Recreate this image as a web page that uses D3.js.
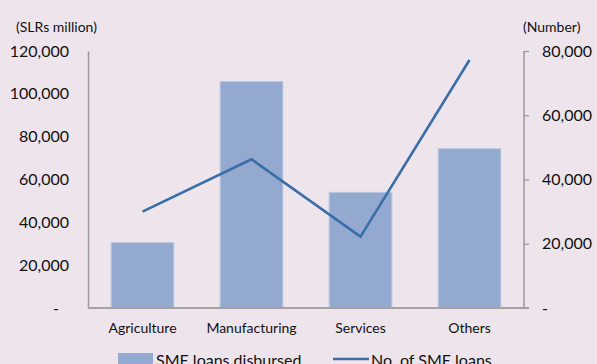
<!DOCTYPE html>
<html>
<head>
<meta charset="utf-8">
<script src="https://cdn.jsdelivr.net/npm/d3@7"></script>
<style>
  html, body { margin: 0; padding: 0; background: #eee4ec; }
  svg { display: block; font-family: Lato, "Open Sans", sans-serif; }
</style>
</head>
<body>
<svg id="chart" width="597" height="364"></svg>
<script>
// SME lending by sector
const categories = ["Agriculture", "Manufacturing", "Services", "Others"];
const loansDisbursed = [30500, 105700, 54000, 74400];   // SLRs million (left axis)
const loanCount = [30000, 46300, 22200, 77200];         // number of loans (right axis)
const leftTicks = [0, 20000, 40000, 60000, 80000, 100000, 120000];
const rightTicks = [0, 20000, 40000, 60000, 80000];
const seriesNames = ["SME loans disbursed", "No. of SME loans"];

const svg = d3.select("#chart");
const plot = { left: 88, right: 524, top: 51, bottom: 308 };

const x = d3.scaleBand().domain(categories).range([plot.left, plot.right]).padding(0);
const yL = d3.scaleLinear().domain([0, 120000]).range([plot.bottom, plot.top]);
const yR = d3.scaleLinear().domain([0, 80000]).range([plot.bottom, plot.top]);
const barFrac = 0.575;

const fmt = d => d === 0 ? "-" : d3.format(",")(d);

// Bars
svg.append("g").selectAll("rect").data(categories).join("rect")
  .attr("x", d => x(d) + x.bandwidth() * (1 - barFrac) / 2)
  .attr("width", x.bandwidth() * barFrac)
  .attr("y", (d, i) => yL(loansDisbursed[i]))
  .attr("height", (d, i) => yL(0) - yL(loansDisbursed[i]))
  .attr("fill", "#93a9cf")
  .attr("stroke", "#b9c7e0")
  .attr("stroke-width", 1);

// Left axis
const gL = svg.append("g").attr("transform", `translate(${plot.left},0)`)
  .call(d3.axisLeft(yL).tickValues(leftTicks).tickFormat(fmt).tickSize(0).tickPadding(19));
gL.select(".domain").attr("stroke", "#9a9a9a").attr("stroke-width", 1.5);
gL.selectAll("text").attr("font-size", 16).attr("fill", "#111")
  .attr("font-family", "Lato, sans-serif")
  .attr("dx", d => d === 0 ? -10 : 0);

// Right axis
const gR = svg.append("g").attr("transform", `translate(${plot.right},0)`)
  .call(d3.axisRight(yR).tickValues(rightTicks).tickFormat(fmt).tickSize(5).tickPadding(13));
gR.select(".domain").attr("stroke", "#9a9a9a").attr("stroke-width", 1.5).attr("d", `M0,${plot.top}V${plot.bottom}`);
gR.selectAll("line").attr("stroke", "#9a9a9a").attr("stroke-width", 1.2);
gR.selectAll("text").attr("font-size", 16).attr("fill", "#111")
  .attr("font-family", "Lato, sans-serif");

// Category axis
const gX = svg.append("g").attr("transform", `translate(0,${plot.bottom})`)
  .call(d3.axisBottom(x).tickSize(0).tickPadding(15));
gX.select(".domain").attr("stroke", "#a3a3a3").attr("stroke-width", 2)
  .attr("d", `M${plot.left},0H${plot.right + 5}`);
gX.selectAll("text").attr("font-size", 14).attr("fill", "#111")
  .attr("font-family", "Lato, sans-serif");

// Line series on the right axis
const line = d3.line()
  .x((d, i) => x(categories[i]) + x.bandwidth() / 2)
  .y(d => yR(d));
svg.append("path").datum(loanCount)
  .attr("d", line)
  .attr("fill", "none")
  .attr("stroke", "#3a6ea8")
  .attr("stroke-width", 2.6)
  .attr("stroke-linejoin", "miter");

// Axis unit titles
svg.append("text").attr("x", 16).attr("y", 32).text("(SLRs million)")
  .attr("font-size", 14).attr("fill", "#111");
svg.append("text").attr("x", 523).attr("y", 32).text("(Number)")
  .attr("font-size", 14).attr("fill", "#111");

// Legend along the bottom edge
const lg = svg.append("g");
lg.append("rect").attr("x", 118).attr("y", 353).attr("width", 35).attr("height", 14)
  .attr("fill", "#93a9cf");
lg.append("text").attr("x", 156).attr("y", 366).text(seriesNames[0])
  .attr("font-size", 16).attr("fill", "#111");
lg.append("line").attr("x1", 333).attr("x2", 369).attr("y1", 359).attr("y2", 359)
  .attr("stroke", "#3a6ea8").attr("stroke-width", 2.6);
lg.append("text").attr("x", 371).attr("y", 366).text(seriesNames[1])
  .attr("font-size", 16).attr("fill", "#111");
</script>
</body>
</html>
